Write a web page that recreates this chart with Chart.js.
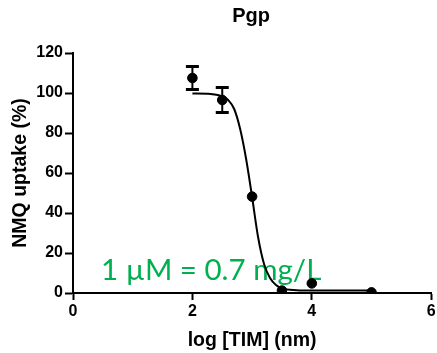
<!DOCTYPE html>
<html>
<head>
<meta charset="utf-8">
<script src="https://cdn.jsdelivr.net/npm/chart.js@4.4.1/dist/chart.umd.min.js"></script>
<style>
  html, body { margin: 0; padding: 0; background: #fff; }
  #wrap { width: 437px; height: 353px; }
</style>
</head>
<body>
<div id="wrap"><canvas id="chart" width="437" height="353"></canvas></div>
<script>
// measured points (log conc, % uptake) and SEM
const doseX = [2, 2.5, 3, 3.5, 4, 5];
const uptake = [107.5, 96.5, 48.2, 1.2, 4.8, 0.3];
const sem = [5.7, 6.2, 0, 0, 0, 0];

// fitted curve
const fitX = [2, 2.25, 2.5, 2.6, 2.7, 2.8, 2.9, 3.0, 3.1, 3.2, 3.3, 3.4, 3.5, 3.75, 4, 5];
const fitY = [99.8, 99.6, 98.3, 96.5, 92, 82, 67, 48, 28, 14.5, 7.5, 4, 2.3, 1.4, 1.2, 1.2];

const xTicks = [0, 2, 4, 6];
const yTicks = [0, 20, 40, 60, 80, 100, 120];

const titleText = "Pgp";
const noteText = "1 \u00B5M = 0.7 mg/L";

const fam = "'Liberation Sans', Arial, sans-serif";
const tickFont = { family: fam, size: 16, weight: "bold" };
const axisFont = { family: fam, size: 19.5, weight: "bold" };

// draws error bars, the title and the green note
const extras = {
  id: "extras",
  beforeDatasetsDraw(chart) {
    const { ctx, scales: { x, y } } = chart;
    ctx.save();
    ctx.fillStyle = "#00B050";
    ctx.font = "29.5px Lato, 'Open Sans', sans-serif";
    ctx.textBaseline = "alphabetic";
    ctx.fillText(noteText, x.getPixelForValue(0.47), y.getPixelForValue(6.3));
    ctx.restore();
  },
  afterDatasetsDraw(chart) {
    const { ctx, chartArea, scales: { x, y } } = chart;
    ctx.save();
    ctx.strokeStyle = "#000";
    doseX.forEach((d, i) => {
      if (!sem[i]) return;
      const px = x.getPixelForValue(d);
      const top = y.getPixelForValue(uptake[i] + sem[i]);
      const bot = y.getPixelForValue(uptake[i] - sem[i]);
      ctx.lineWidth = 2;
      ctx.beginPath();
      ctx.moveTo(px, top);
      ctx.lineTo(px, bot);
      ctx.stroke();
      ctx.lineWidth = 3;
      ctx.beginPath();
      ctx.moveTo(px - 6.5, top);
      ctx.lineTo(px + 6.5, top);
      ctx.moveTo(px - 6.5, bot);
      ctx.lineTo(px + 6.5, bot);
      ctx.stroke();
    });
    ctx.fillStyle = "#000";
    ctx.font = "bold 20px " + fam;
    ctx.textAlign = "center";
    ctx.textBaseline = "middle";
    ctx.fillText(titleText, (chartArea.left + chartArea.right) / 2 - 1, 16);
    ctx.restore();
  }
};

new Chart(document.getElementById("chart"), {
  type: "scatter",
  data: {
    datasets: [
      {
        label: "data",
        data: doseX.map((d, i) => ({ x: d, y: uptake[i] })),
        backgroundColor: "#000",
        borderColor: "#000",
        pointRadius: 4.8,
        pointHoverRadius: 4.8,
        showLine: false
      },
      {
        label: "fit",
        data: fitX.map((d, i) => ({ x: d, y: fitY[i] })),
        borderColor: "#000",
        borderWidth: 2,
        pointRadius: 0,
        showLine: true,
        cubicInterpolationMode: "monotone"
      }
    ]
  },
  options: {
    responsive: false,
    animation: false,
    layout: { padding: { top: 53, right: 4, left: 0, bottom: 0 } },
    plugins: {
      legend: { display: false },
      tooltip: { enabled: false },
      title: { display: false }
    },
    scales: {
      x: {
        type: "linear",
        min: 0,
        max: 6,
        afterBuildTicks: (s) => { s.ticks = xTicks.map(v => ({ value: v })); },
        afterFit: (s) => { s.height = 60; s.paddingLeft = 0; s.paddingRight = 0; },
        border: { color: "#000", width: 2 },
        grid: { drawOnChartArea: false, color: "#000", tickLength: 7, tickWidth: 2 },
        ticks: { color: "#000", font: tickFont, padding: 2, maxRotation: 0 },
        title: { display: true, text: "log [TIM] (nm)", color: "#000", font: axisFont, padding: { top: 0, bottom: 1 } }
      },
      y: {
        min: 0,
        max: 120,
        afterBuildTicks: (s) => { s.ticks = yTicks.map(v => ({ value: v })); },
        afterFit: (s) => { s.width = 73; s.paddingTop = 0; s.paddingBottom = 0; },
        border: { color: "#000", width: 2 },
        grid: { drawOnChartArea: false, color: "#000", tickLength: 8, tickWidth: 2 },
        ticks: { color: "#000", font: tickFont, padding: 2 },
        title: { display: true, text: "NMQ uptake (%)", color: "#000", font: axisFont, padding: { top: 9, bottom: 0 } }
      }
    }
  },
  plugins: [extras]
});
</script>
</body>
</html>
